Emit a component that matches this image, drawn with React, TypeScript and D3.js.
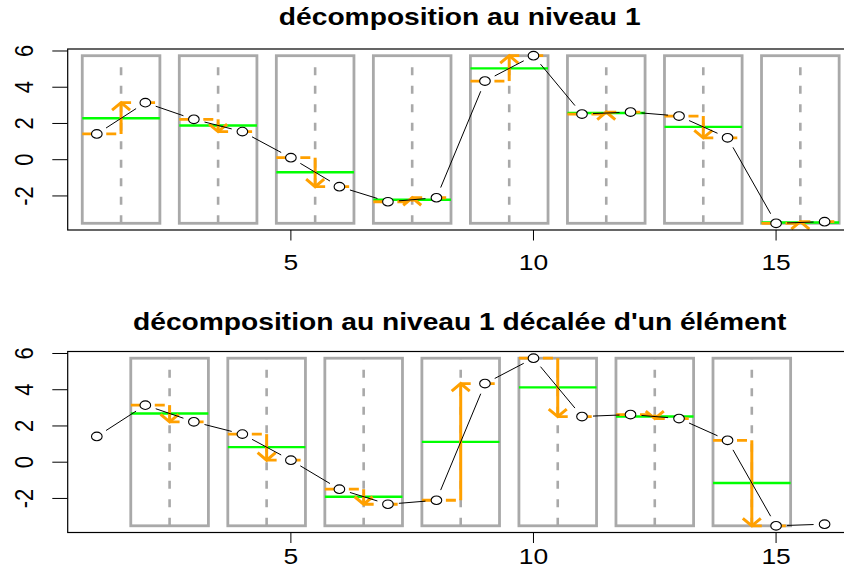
import React from "react";
import * as d3 from "d3";

// ---- data ----
const positions = [1, 2, 3, 4, 5, 6, 7, 8, 9, 10, 11, 12, 13, 14, 15, 16];
const values = [1.42, 3.15, 2.23, 1.55, 0.11, -1.49, -2.32, -2.1, 4.34, 5.74, 2.52, 2.63, 2.41, 1.21, -3.51, -3.42];
const pairsLevel1 = [[1, 2], [3, 4], [5, 6], [7, 8], [9, 10], [11, 12], [13, 14], [15, 16]];
const pairsShifted = [[2, 3], [4, 5], [6, 7], [8, 9], [10, 11], [12, 13], [14, 15]];
const xTicks = [5, 10, 15];
const yTicks = [-2, 0, 2, 4, 6];
const titles = ["décomposition au niveau 1", "décomposition au niveau 1 décalée d'un élément"];

// ---- style ----
const W = 844;
const H = 569;
const FONT = "'Liberation Sans', Arial, Helvetica, sans-serif";
const GRAY = "#a9a9a9";
const ORANGE = "#ffa000";
const GREEN = "#00ff00";
const SX = 1.2; // horizontal stretch of the reference rendering
const PLOT_LEFT = 67.7;
const PLOT_RIGHT = 853.7;
const PLOT_H = 181;
const BOX_PAD = 0.3;

const ymin = d3.min(values) as number;
const ymax = d3.max(values) as number;
const span = ymax - ymin;

const xScale = d3.scaleLinear().domain([0.4, 16.6]).range([PLOT_LEFT, PLOT_RIGHT]);

function Panel({
  top,
  pairs,
  title,
  titleY,
  xLabelOffset,
}: {
  top: number;
  pairs: number[][];
  title: string;
  titleY: number;
  xLabelOffset: number;
}) {
  const yScale = d3
    .scaleLinear()
    .domain([ymin - 0.04 * span, ymax + 0.04 * span])
    .range([top + PLOT_H, top]);
  const bottom = top + PLOT_H;
  const val = (i: number) => values[positions.indexOf(i)];

  // black connecting line with gaps (type "b")
  const gap = 11;
  const segs: { x1: number; y1: number; x2: number; y2: number }[] = [];
  for (let k = 0; k < positions.length - 1; k++) {
    const ax = xScale(positions[k]);
    const ay = yScale(values[k]);
    const bx = xScale(positions[k + 1]);
    const by = yScale(values[k + 1]);
    const len = Math.hypot(bx - ax, by - ay);
    if (len <= 2 * gap) continue;
    const ux = (bx - ax) / len;
    const uy = (by - ay) / len;
    segs.push({ x1: ax + ux * gap, y1: ay + uy * gap, x2: bx - ux * gap, y2: by - uy * gap });
  }

  return (
    <g>
      {/* title */}
      <g transform={`translate(${(PLOT_LEFT + PLOT_RIGHT) / 2 - 1},${titleY}) scale(${SX},1)`}>
        <text textAnchor="middle" fontFamily={FONT} fontWeight="bold" fontSize={23.5} fill="#000">
          {title}
        </text>
      </g>

      {/* boxes */}
      {pairs.map(([a, b], i) => {
        const xl = xScale(a - BOX_PAD);
        const xr = xScale(b + BOX_PAD);
        const xc = xScale((a + b) / 2);
        const va = val(a);
        const vb = val(b);
        const mean = (va + vb) / 2;
        const ya = yScale(va);
        const yb = yScale(vb);
        const dir = yb < ya ? 1 : -1; // arrow pointing up => arms go down (+y)
        return (
          <g key={i}>
            <rect x={xl} y={yScale(ymax)} width={xr - xl} height={yScale(ymin) - yScale(ymax)} fill="none" stroke={GRAY} strokeWidth={2.8} />
            <line x1={xc} y1={yScale(ymin)} x2={xc} y2={yScale(ymax)} stroke={GRAY} strokeWidth={2.6} strokeDasharray="8 10.5" />
            <line x1={xl} y1={yScale(mean)} x2={xr} y2={yScale(mean)} stroke={GREEN} strokeWidth={2.4} />
            <line x1={xl} y1={ya} x2={xc} y2={ya} stroke={ORANGE} strokeWidth={2.8} strokeDasharray="10 14" />
            <line x1={xc} y1={yb} x2={xr} y2={yb} stroke={ORANGE} strokeWidth={2.8} strokeDasharray="10 14" />
            <line x1={xc} y1={ya} x2={xc} y2={yb} stroke={ORANGE} strokeWidth={3} />
            <polyline
              points={`${xc - 9},${yb + dir * 7.5} ${xc},${yb} ${xc + 9},${yb + dir * 7.5}`}
              fill="none"
              stroke={ORANGE}
              strokeWidth={3}
            />
          </g>
        );
      })}

      {/* data line + points */}
      {segs.map((s, i) => (
        <line key={i} {...s} stroke="#000" strokeWidth={1} />
      ))}
      {positions.map((p, i) => (
        <ellipse key={i} cx={xScale(p)} cy={yScale(values[i])} rx={5.3} ry={4.3} fill="#fff" stroke="#000" strokeWidth={1.1} />
      ))}

      {/* frame */}
      <rect x={PLOT_LEFT} y={top} width={PLOT_RIGHT - PLOT_LEFT} height={PLOT_H} fill="none" stroke="#000" strokeWidth={1.2} />

      {/* y axis */}
      {yTicks.map((t) => (
        <g key={t}>
          <line x1={PLOT_LEFT - 15.4} x2={PLOT_LEFT} y1={yScale(t)} y2={yScale(t)} stroke="#000" strokeWidth={1} />
          <g transform={`translate(33,${yScale(t)}) scale(${SX},1) rotate(-90)`}>
            <text textAnchor="middle" fontFamily={FONT} fontSize={22} fill="#000">
              {String(t)}
            </text>
          </g>
        </g>
      ))}

      {/* x axis */}
      {xTicks.map((t) => (
        <g key={t}>
          <line x1={xScale(t)} x2={xScale(t)} y1={bottom} y2={bottom + 10.5} stroke="#000" strokeWidth={1} />
          <g transform={`translate(${xScale(t)},${bottom + xLabelOffset}) scale(${SX},1)`}>
            <text textAnchor="middle" fontFamily={FONT} fontSize={22} fill="#000">
              {t}
            </text>
          </g>
        </g>
      ))}
    </g>
  );
}

export default function App() {
  return (
    <svg
      width={W}
      height={H}
      viewBox={`0 0 ${W} ${H}`}
      style={{ position: "absolute", left: 0, top: 0, background: "#fff" }}
    >
      <rect x={0} y={0} width={W} height={H} fill="#fff" />
      <Panel top={49} pairs={pairsLevel1} title={titles[0]} titleY={25} xLabelOffset={40} />
      <Panel top={351.5} pairs={pairsShifted} title={titles[1]} titleY={330} xLabelOffset={31} />
    </svg>
  );
}
